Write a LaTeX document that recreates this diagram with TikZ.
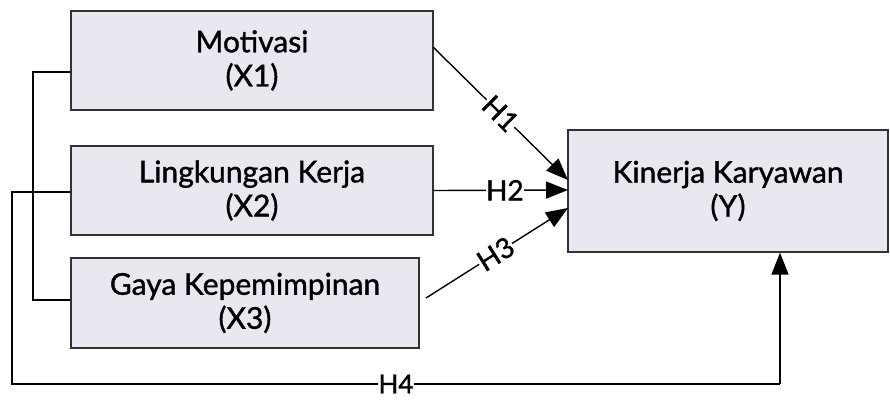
\documentclass[tikz,border=0pt]{standalone}
\usepackage{fontspec}
\setmainfont{Lato}[FakeBold=1.2]
\usetikzlibrary{arrows.meta}
\definecolor{boxfill}{RGB}{234,231,240}
\definecolor{boxline}{RGB}{50,50,50}
\tikzset{
  var/.style={draw=boxline, line width=1.3pt, fill=boxfill, inner sep=0pt, align=center,
    font=\fontsize{30}{34}\selectfont},
  conn/.style={line width=1.4pt, black},
  arr/.style={conn, -{Triangle[length=22pt,width=17pt]}},
  hlab/.style={fill=white, inner sep=0.5pt, font=\fontsize{28}{28}\selectfont}
}
\begin{document}
\begin{tikzpicture}[x=1pt,y=-1pt]
\useasboundingbox (0,0) rectangle (890,399);
\node[var, minimum width=362pt, minimum height=99pt] (X1) at (252,60.5) {Motivasi\\(X1)};
\node[var, minimum width=362pt, minimum height=89pt] (X2) at (252,190.5) {Lingkungan Kerja\\(X2)};
\node[var, minimum width=348pt, minimum height=90pt] (X3) at (245,303) {Gaya Kepemimpinan\\(X3)};
\node[var, minimum width=320pt, minimum height=122pt] (Y) at (728,191) {Kinerja Karyawan\\(Y)};

\coordinate (b1) at (33,72);
\coordinate (b2) at (33,300);
\draw[conn] (X1.west |- b1) -- (b1) -- (b2) -- (X3.west |- b2);

\coordinate (o1) at (12,192);
\coordinate (o2) at (12,384);
\coordinate (o3) at (780,384);
\draw[conn] (X2.west |- o1) -- (o1) -- (o2) -- node[hlab, inner ysep=0pt, font=\fontsize{26}{26}\selectfont, pos=0.5] {H4} (o3);
\draw[arr] (o3) -- (Y.south -| o3);

\coordinate (e1) at (568,180);
\coordinate (e2) at (568,190);
\coordinate (e3) at (568,208);
\coordinate (s1) at (433,47);
\coordinate (s3) at (426,298);
\draw[arr] (s1) -- node[hlab, sloped, pos=0.5] {H1} (e1);
\draw[arr] (X2.east) -- node[hlab, pos=0.53] {H2} (e2);
\draw[arr] (s3) -- node[hlab, sloped, pos=0.49] {H3} (e3);
\end{tikzpicture}
\end{document}
